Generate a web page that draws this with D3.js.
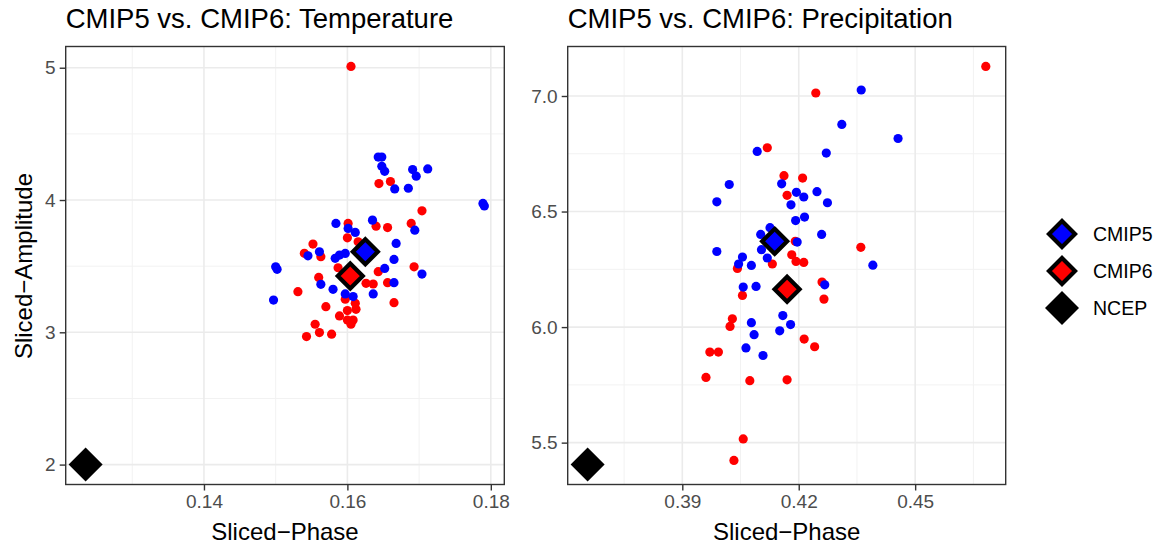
<!DOCTYPE html>
<html lang="en">
<head>
<meta charset="UTF-8"/>
<title>CMIP5 vs. CMIP6</title>
<script src="https://d3js.org/d3.v7.min.js"></script>
<style>
  body { margin: 0; background: white; }
  svg { display: block; font-family: "Liberation Sans", Arial, sans-serif; }
</style>
</head>
<body>
<script>
// temperature panel: [phase, amplitude]
var tempCMIP5 = [[0.1643,4.325],[0.1648,4.325],[0.1648,4.255],[0.1652,4.217],[0.1691,4.23],[0.1712,4.235],
  [0.1696,4.18],[0.1666,4.084],[0.1685,4.089],[0.1789,3.974],[0.1791,3.955],[0.1584,3.823],[0.1635,3.848],
  [0.1601,3.785],[0.1611,3.755],[0.1694,3.772],[0.1668,3.672],[0.1561,3.609],[0.1545,3.578],[0.1583,3.559],
  [0.1589,3.584],[0.1597,3.596],[0.1665,3.551],[0.1652,3.483],[0.1500,3.495],[0.1502,3.476],[0.1704,3.44],
  [0.1563,3.363],[0.1580,3.325],[0.1665,3.375],[0.1597,3.29],[0.1608,3.27],[0.1636,3.29],[0.1497,3.244]];
var tempCMIP6 = [[0.1605,5.01],[0.1644,4.124],[0.1660,4.14],[0.1704,3.918],[0.1689,3.823],[0.1601,3.823],
  [0.1640,3.802],[0.1656,3.792],[0.1600,3.714],[0.1615,3.684],[0.1552,3.667],[0.1540,3.597],[0.1563,3.571],
  [0.1587,3.488],[0.1693,3.495],[0.1643,3.458],[0.1560,3.415],[0.1626,3.37],[0.1636,3.365],[0.1656,3.375],
  [0.1531,3.307],[0.1597,3.25],[0.1665,3.224],[0.1570,3.194],[0.1611,3.219],[0.1612,3.174],[0.1600,3.164],
  [0.1589,3.124],[0.1600,3.093],[0.1608,3.093],[0.1605,3.061],[0.1555,3.061],[0.1561,2.998],[0.1578,2.986],
  [0.1543,2.968]];
var tempMeans = [[0.1625,3.609],[0.1604,3.425]];   // CMIP5, CMIP6
var tempNCEP = [0.1235,2.0];

// precipitation panel
var precCMIP5 = [[0.4361,7.026],[0.4311,6.877],[0.4456,6.816],[0.4093,6.760],[0.4271,6.753],[0.4021,6.617],
  [0.3989,6.542],[0.4156,6.620],[0.4194,6.583],[0.4213,6.563],[0.4247,6.586],[0.4180,6.529],[0.4274,6.538],
  [0.4192,6.461],[0.4215,6.476],[0.4259,6.401],[0.4196,6.368],[0.4126,6.430],[0.4102,6.401],[0.4104,6.335],
  [0.3989,6.327],[0.4055,6.303],[0.4045,6.273],[0.4078,6.267],[0.4119,6.299],[0.4391,6.268],[0.4057,6.173],
  [0.4090,6.176],[0.4267,6.183],[0.4159,6.050],[0.4179,6.011],[0.4151,5.984],[0.4078,6.019],[0.4085,5.967],
  [0.4064,5.910],[0.4108,5.877]];
var precCMIP6 = [[0.4682,7.128],[0.4244,7.013],[0.4119,6.776],[0.4162,6.655],[0.4210,6.645],[0.4170,6.570],
  [0.4191,6.371],[0.4360,6.345],[0.4182,6.313],[0.4193,6.284],[0.4213,6.280],[0.4132,6.273],[0.4042,6.254],
  [0.4260,6.195],[0.4055,6.137],[0.4265,6.121],[0.4029,6.036],[0.4023,6.003],[0.4214,5.948],[0.4241,5.915],
  [0.3971,5.892],[0.3993,5.892],[0.3961,5.782],[0.4074,5.768],[0.4170,5.772],[0.4057,5.516],[0.4033,5.423]];
var precMeans = [[0.4138,6.371],[0.4170,6.164]];
var precNCEP = [0.3656,5.405];

var legendLabels = ["CMIP5","CMIP6","NCEP"];
var colors = ["#0000FF","#FF0000"];

var w = 1161, h = 548;
var svg = d3.select("body").append("svg").attr("width", w).attr("height", h);

function diamond(s) {
  return "M0," + (-s) + "L" + s + ",0L0," + s + "L" + (-s) + ",0Z";
}

function expand(ext) {
  var pad = (ext[1] - ext[0]) * 0.05;
  return [ext[0] - pad, ext[1] + pad];
}

function panel(opt) {
  var all = opt.c5.concat(opt.c6, opt.means, [opt.ncep]);
  var x = d3.scaleLinear().domain(expand(d3.extent(all, d => d[0]))).range([opt.left, opt.right]);
  var y = d3.scaleLinear().domain(expand(d3.extent(all, d => d[1]))).range([opt.bottom, opt.top]);
  var g = svg.append("g");

  // grid
  g.selectAll(".xminor").data(opt.xMinor.filter(v => v > x.domain()[0] && v < x.domain()[1])).enter()
    .append("line").attr("x1", d => x(d)).attr("x2", d => x(d)).attr("y1", opt.top).attr("y2", opt.bottom)
    .attr("stroke", "#F2F2F2").attr("stroke-width", 1);
  g.selectAll(".yminor").data(opt.yMinor.filter(v => v > y.domain()[0] && v < y.domain()[1])).enter()
    .append("line").attr("y1", d => y(d)).attr("y2", d => y(d)).attr("x1", opt.left).attr("x2", opt.right)
    .attr("stroke", "#F2F2F2").attr("stroke-width", 1);
  g.selectAll(".xmajor").data(opt.xTicks).enter()
    .append("line").attr("x1", d => x(d)).attr("x2", d => x(d)).attr("y1", opt.top).attr("y2", opt.bottom)
    .attr("stroke", "#EBEBEB").attr("stroke-width", 1.6);
  g.selectAll(".ymajor").data(opt.yTicks).enter()
    .append("line").attr("y1", d => y(d)).attr("y2", d => y(d)).attr("x1", opt.left).attr("x2", opt.right)
    .attr("stroke", "#EBEBEB").attr("stroke-width", 1.6);

  // model points
  [[opt.c6, colors[1]], [opt.c5, colors[0]]].forEach(function(s) {
    g.append("g").selectAll("circle").data(s[0]).enter().append("circle")
      .attr("cx", d => x(d[0])).attr("cy", d => y(d[1])).attr("r", 4.6).attr("fill", s[1]);
  });

  // ensemble means
  opt.means.forEach(function(m, i) {
    g.append("path").attr("d", diamond(12.5))
      .attr("transform", "translate(" + x(m[0]) + "," + y(m[1]) + ")")
      .attr("fill", colors[i]).attr("stroke", "black").attr("stroke-width", 4.2);
  });
  g.append("path").attr("d", diamond(17))
    .attr("transform", "translate(" + x(opt.ncep[0]) + "," + y(opt.ncep[1]) + ")")
    .attr("fill", "black");

  // border
  g.append("rect").attr("x", opt.left).attr("y", opt.top)
    .attr("width", opt.right - opt.left).attr("height", opt.bottom - opt.top)
    .attr("fill", "none").attr("stroke", "#333333").attr("stroke-width", 1.4);

  // axes
  var xAxis = d3.axisBottom(x).tickValues(opt.xTicks).tickFormat(opt.xFmt).tickSize(6).tickPadding(4);
  var yAxis = d3.axisLeft(y).tickValues(opt.yTicks).tickFormat(opt.yFmt).tickSize(6).tickPadding(4);
  var ax = g.append("g").attr("transform", "translate(0," + opt.bottom + ")").call(xAxis);
  var ay = g.append("g").attr("transform", "translate(" + opt.left + ",0)").call(yAxis);
  [ax, ay].forEach(function(a) {
    a.select(".domain").remove();
    a.selectAll(".tick line").attr("stroke", "#333333").attr("stroke-width", 1.4);
    a.selectAll(".tick text").attr("fill", "#4D4D4D").style("font-size", "19px")
      .style("font-family", "'Liberation Sans', Arial, sans-serif");
  });

  g.append("text").attr("x", opt.left).attr("y", 28)
    .style("font-size", "27.5px").attr("fill", "black").text(opt.title);
  g.append("text").attr("x", (opt.left + opt.right) / 2).attr("y", 540)
    .attr("text-anchor", "middle").style("font-size", "24px").text("Sliced\u2212Phase");
}

panel({
  c5: tempCMIP5, c6: tempCMIP6, means: tempMeans, ncep: tempNCEP,
  left: 65.7, right: 504.3, top: 46.5, bottom: 484.5,
  xTicks: [0.14, 0.16, 0.18], xMinor: [0.13, 0.15, 0.17],
  yTicks: [2, 3, 4, 5], yMinor: [2.5, 3.5, 4.5],
  xFmt: d3.format(".2f"), yFmt: d3.format("d"),
  title: "CMIP5 vs. CMIP6: Temperature"
});
panel({
  c5: precCMIP5, c6: precCMIP6, means: precMeans, ncep: precNCEP,
  left: 567.7, right: 1005.7, top: 46.5, bottom: 484.5,
  xTicks: [0.39, 0.42, 0.45], xMinor: [0.375, 0.405, 0.435, 0.465],
  yTicks: [5.5, 6.0, 6.5, 7.0], yMinor: [5.75, 6.25, 6.75],
  xFmt: d3.format(".2f"), yFmt: d3.format(".1f"),
  title: "CMIP5 vs. CMIP6: Precipitation"
});

svg.append("text").attr("transform", "translate(32,266) rotate(-90)")
  .attr("text-anchor", "middle").style("font-size", "24px").text("Sliced\u2212Amplitude");

// legend
var leg = svg.append("g").attr("transform", "translate(1062,234)");
var rows = leg.selectAll("g").data(legendLabels).enter().append("g")
  .attr("transform", (d, i) => "translate(0," + (i * 37) + ")");
rows.append("path")
  .attr("d", (d, i) => i < 2 ? diamond(13) : diamond(17))
  .attr("fill", (d, i) => i < 2 ? colors[i] : "black")
  .attr("stroke", (d, i) => i < 2 ? "black" : "none")
  .attr("stroke-width", 4.2);
rows.append("text").attr("x", 31).attr("y", 7).style("font-size", "19.5px").text(d => d);
</script>
</body>
</html>
